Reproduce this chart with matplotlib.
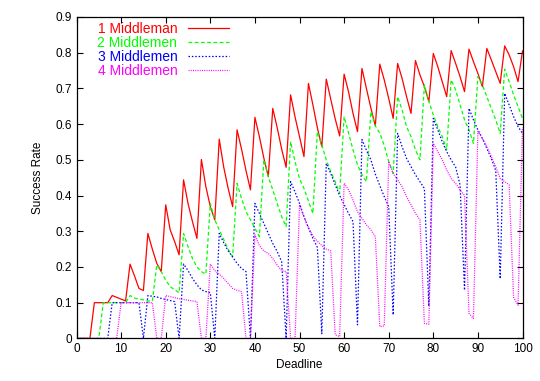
import numpy as np
import matplotlib
matplotlib.use("Agg")
import matplotlib.pyplot as plt

plt.rcParams['font.family'] = ['Liberation Sans', 'DejaVu Sans']

deadline = list(range(0, 101))

one_mid = [0, 0, 0, 0, 0.10, 0.10, 0.10, 0.10,
           0.12, 0.115, 0.11, 0.105, 0.208, 0.175, 0.14, 0.134,
           0.294, 0.25, 0.21, 0.187, 0.374, 0.304, 0.271, 0.234,
           0.444, 0.378, 0.327, 0.28, 0.501, 0.425, 0.369, 0.332,
           0.558, 0.48, 0.42, 0.369, 0.584, 0.53, 0.47, 0.416,
           0.619, 0.565, 0.505, 0.453, 0.644, 0.59, 0.53, 0.479,
           0.682, 0.62, 0.565, 0.509, 0.714, 0.654, 0.59, 0.537,
           0.726, 0.67, 0.615, 0.567, 0.74, 0.69, 0.63, 0.579,
           0.756, 0.70, 0.645, 0.595, 0.768, 0.724, 0.672, 0.616,
           0.77, 0.728, 0.677, 0.63, 0.778, 0.738, 0.705, 0.663,
           0.798, 0.761, 0.719, 0.677, 0.806, 0.77, 0.733, 0.691,
           0.81, 0.775, 0.742, 0.705, 0.812, 0.78, 0.747, 0.714,
           0.819, 0.794, 0.761, 0.719, 0.805]

two_mid = [0, 0, 0, 0, 0, 0, 0.1, 0.1, 0.1, 0.1, 0.1, 0.1,
           0.12, 0.113, 0.11, 0.108, 0.105, 0.104,
           0.206, 0.187, 0.163, 0.145, 0.136, 0.128,
           0.294, 0.257, 0.224, 0.2, 0.187, 0.18,
           0.378, 0.332, 0.304, 0.277, 0.25, 0.229,
           0.434, 0.392, 0.355, 0.332, 0.308, 0.285,
           0.50, 0.453, 0.416, 0.378, 0.341, 0.313,
           0.551, 0.495, 0.447, 0.42, 0.385, 0.35,
           0.579, 0.541, 0.50, 0.467, 0.439, 0.406,
           0.621, 0.575, 0.528, 0.486, 0.458, 0.439,
           0.635, 0.595, 0.575, 0.54, 0.495, 0.462,
           0.677, 0.64, 0.593, 0.565, 0.528, 0.50,
           0.71, 0.663, 0.626, 0.593, 0.565, 0.528,
           0.724, 0.696, 0.654, 0.612, 0.584, 0.546,
           0.733, 0.71, 0.677, 0.644, 0.612, 0.574,
           0.754, 0.719, 0.682, 0.649, 0.616]

three_mid = [0, 0, 0, 0, 0, 0, 0, 0,
             0.1, 0.1, 0.1, 0.1, 0.1, 0.1, 0.1, 0,
             0.12, 0.118, 0.116, 0.112, 0.109, 0.106, 0.103, 0,
             0.208, 0.19, 0.168, 0.15, 0.136, 0.131, 0.128, 0,
             0.294, 0.268, 0.245, 0.228, 0.21, 0.196, 0.187, 0,
             0.378, 0.35, 0.322, 0.294, 0.266, 0.243, 0.215, 0,
             0.439, 0.41, 0.378, 0.341, 0.31, 0.28, 0.255, 0.013,
             0.49, 0.462, 0.43, 0.40, 0.375, 0.35, 0.327, 0.038,
             0.557, 0.527, 0.50, 0.46, 0.428, 0.397, 0.369, 0.066,
             0.574, 0.537, 0.504, 0.481, 0.458, 0.439, 0.42, 0.09,
             0.616, 0.584, 0.551, 0.523, 0.50, 0.48, 0.43, 0.135,
             0.644, 0.612, 0.584, 0.56, 0.532, 0.504, 0.47, 0.167,
             0.686, 0.654, 0.621, 0.593, 0.574]

four_mid = [0, 0, 0, 0, 0, 0, 0, 0, 0, 0,
            0.1, 0.1, 0.1, 0.1, 0.1, 0.1, 0.1, 0.1, 0, 0,
            0.12, 0.117, 0.114, 0.111, 0.109, 0.107, 0.105, 0.103, 0, 0,
            0.208, 0.19, 0.18, 0.168, 0.154, 0.14, 0.135, 0.131, 0, 0,
            0.29, 0.26, 0.245, 0.238, 0.224, 0.205, 0.19, 0.187, 0, 0,
            0.374, 0.34, 0.31, 0.287, 0.272, 0.26, 0.25, 0.245, 0.01, 0.005,
            0.434, 0.416, 0.387, 0.355, 0.336, 0.318, 0.304, 0.285, 0.033, 0.035,
            0.495, 0.462, 0.444, 0.425, 0.397, 0.374, 0.35, 0.332, 0.042, 0.04,
            0.546, 0.523, 0.50, 0.472, 0.448, 0.434, 0.416, 0.40, 0.07, 0.056,
            0.579, 0.56, 0.537, 0.509, 0.481, 0.448, 0.439, 0.43, 0.115, 0.093,
            0.59]

series = [
    ("1 Middleman", one_mid, "#ff0000", "-"),
    ("2 Middlemen", two_mid, "#00ff00", (0, (3, 2))),
    ("3 Middlemen", three_mid, "#0000ff", (0, (1.2, 1.5))),
    ("4 Middlemen", four_mid, "#ff00ff", (0, (0.8, 1))),
]

fig = plt.figure(figsize=(5.4, 3.81), dpi=100)
ax = fig.add_axes([0.1417, 0.1118, 0.8259, 0.8436])

for label, vals, col, ls in series:
    ax.plot(deadline, vals, color=col, linestyle=ls, linewidth=0.9, label=label)

ax.set_xlim(0, 100)
ax.set_ylim(0, 0.9)
ax.set_xticks(range(0, 101, 10))
ax.set_yticks(np.arange(0, 0.91, 0.1))
ax.set_yticklabels(["0", "0.1", "0.2", "0.3", "0.4", "0.5", "0.6", "0.7", "0.8", "0.9"])
ax.tick_params(direction="in", length=4, width=0.8, top=True, right=True, labelsize=8.5)
for s in ax.spines.values():
    s.set_linewidth(0.9)

ax.set_xlabel("Deadline", fontsize=8.5, labelpad=3)
ax.set_ylabel("Success Rate", fontsize=8.5, labelpad=8)

leg = ax.legend(loc="upper left", bbox_to_anchor=(0.025, 1.014), frameon=False,
                markerfirst=False, labelcolor="linecolor", fontsize=10,
                handlelength=2.9, handletextpad=0.8, labelspacing=0.0,
                borderaxespad=0.3)

fig.savefig("out.png", dpi=100)
